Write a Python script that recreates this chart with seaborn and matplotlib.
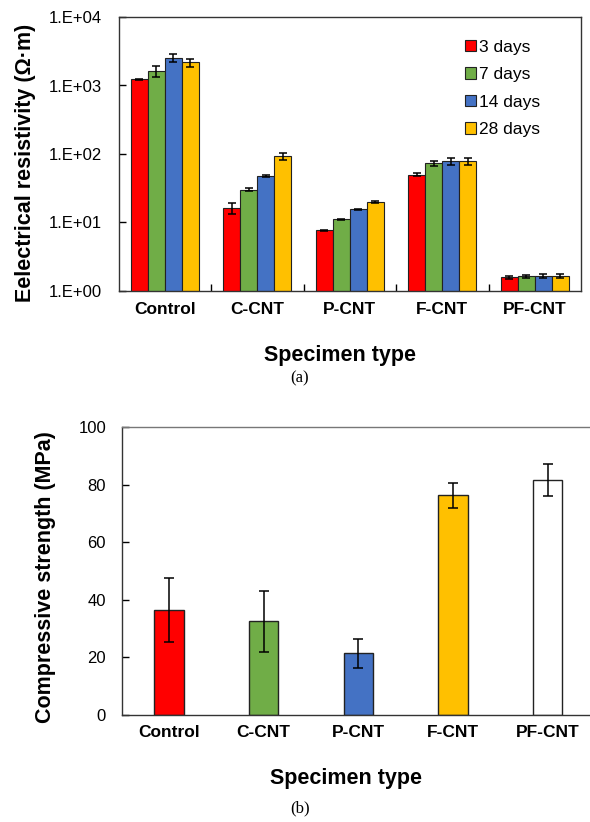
import numpy as np
import pandas as pd
import matplotlib
matplotlib.use("Agg")
import matplotlib.pyplot as plt
import seaborn as sns
from matplotlib.ticker import FuncFormatter, FixedLocator, NullLocator
from matplotlib.patches import Patch

# ---------------- data ----------------
specimens = ["Control", "C-CNT", "P-CNT", "F-CNT", "PF-CNT"]
ages = ["3 days", "7 days", "14 days", "28 days"]
age_colors = ["#FF0000", "#70AD47", "#4472C4", "#FFC000"]

res_3d = [1230, 16.4, 7.7, 50, 1.60]
res_7d = [1620, 30.1, 11.1, 73, 1.63]
res_14d = [2540, 47.2, 15.5, 78, 1.65]
res_28d = [2180, 92.5, 19.9, 78, 1.66]
err_3d = [30, 3.0, 0.1, 3.0, 0.08]
err_7d = [280, 1.5, 0.3, 7.0, 0.10]
err_14d = [350, 1.5, 0.3, 9.0, 0.10]
err_28d = [290, 12.0, 0.5, 8.0, 0.12]

strength = [36.3, 32.4, 21.3, 76.2, 81.5]
strength_err = [11.1, 10.7, 4.9, 4.5, 5.6]
strength_colors = ["#FF0000", "#70AD47", "#4472C4", "#FFC000", "#FFFFFF"]

res_vals = [res_3d, res_7d, res_14d, res_28d]
res_errs = [err_3d, err_7d, err_14d, err_28d]

df_a = pd.DataFrame({
    "Specimen": np.tile(specimens, len(ages)),
    "Age": np.repeat(ages, len(specimens)),
    "Resistivity": np.concatenate(res_vals),
    "Err": np.concatenate(res_errs),
})
df_b = pd.DataFrame({"Specimen": specimens, "Strength": strength, "Err": strength_err})

# ---------------- style ----------------
sns.set_theme(style="white")
plt.rcParams["font.family"] = ["Liberation Sans", "DejaVu Sans"]
plt.rcParams["axes.linewidth"] = 1.0
for k in ["text.color", "axes.labelcolor", "xtick.color", "ytick.color"]:
    plt.rcParams[k] = "black"

W, H = 590, 822
fig = plt.figure(figsize=(W / 100, H / 100), dpi=100)

def px_axes(l, t, r, b):
    return fig.add_axes([l / W, 1 - b / H, (r - l) / W, (b - t) / H])

edge = "#222222"

# ---------------- panel (a) ----------------
ax1 = px_axes(118.5, 17, 581, 291)
ax1.set_yscale("log")
sns.barplot(data=df_a, x="Specimen", y="Resistivity", hue="Age", order=specimens,
            hue_order=ages, palette=age_colors, errorbar=None, width=0.73, saturation=1,
            edgecolor=edge, linewidth=0.8, ax=ax1, legend=False)
for p, (_, row) in zip(ax1.patches, df_a.iterrows()):
    cx = p.get_x() + p.get_width() / 2
    ax1.errorbar(cx, p.get_height(), yerr=row["Err"], fmt="none", ecolor="black",
                 elinewidth=1.1, capsize=3, capthick=1.1)
ax1.set_ylim(1, 1e4)
ax1.set_xlim(-0.5, 4.5)
ax1.yaxis.set_major_locator(FixedLocator([1, 10, 100, 1000, 10000]))
ax1.yaxis.set_minor_locator(NullLocator())
ax1.yaxis.set_major_formatter(FuncFormatter(lambda v, p: "1.E+%02d" % int(round(np.log10(v)))))
ax1.tick_params(axis="y", direction="in", length=5, width=1, labelsize=12, pad=12, left=True)
ax1.set_xticks(range(len(specimens)))
ax1.set_xticklabels(specimens, fontweight="bold", fontsize=12.5)
ax1.tick_params(axis="x", length=0, pad=7.7)
ax1.set_xticks([0.5, 1.5, 2.5, 3.5], minor=True)
ax1.tick_params(axis="x", which="minor", direction="in", length=5, width=1, bottom=True)
for s in ax1.spines.values():
    s.set_visible(True)
    s.set_color("#333333")
ax1.set_xlabel("Specimen type", fontsize=15.5, fontweight="bold")
ax1.xaxis.label.set_va("center")
ax1.xaxis.set_label_coords(0.478, -0.234)
ax1.set_ylabel("Eelectrical resistivity (\u03a9\u00b7m)", fontsize=15.5, fontweight="bold")
ax1.yaxis.label.set_va("center")
ax1.yaxis.set_label_coords(-0.2, 0.469)
handles = [Patch(facecolor=c, edgecolor=edge, linewidth=0.8) for c in age_colors]
ax1.legend(handles, ages, loc="upper left", bbox_to_anchor=(0.722, 0.962), frameon=False,
           fontsize=12.5, handlelength=0.65, handleheight=0.65, handletextpad=0.2,
           labelspacing=0.72, borderpad=0.2)

# ---------------- panel (b) ----------------
ax2 = px_axes(121.7, 427, 595, 714.7)
sns.barplot(data=df_b, x="Specimen", y="Strength", hue="Specimen", order=specimens,
            hue_order=specimens, palette=strength_colors, errorbar=None, width=0.31, saturation=1,
            edgecolor=edge, linewidth=1.0, ax=ax2, legend=False, dodge=False)
for p, (_, row) in zip(ax2.patches, df_b.iterrows()):
    cx = p.get_x() + p.get_width() / 2
    ax2.errorbar(cx, p.get_height(), yerr=row["Err"], fmt="none", ecolor="black",
                 elinewidth=1.1, capsize=3.5, capthick=1.1)
ax2.set_ylim(0, 100)
ax2.set_xlim(-0.5, 4.5)
ax2.set_yticks([0, 20, 40, 60, 80, 100])
ax2.tick_params(axis="y", direction="in", length=5, width=1, labelsize=12, pad=11.3, left=True)
ax2.set_xticks(range(len(specimens)))
ax2.set_xticklabels(specimens, fontweight="bold", fontsize=12.5)
ax2.tick_params(axis="x", length=0, pad=7.4)
for s in ax2.spines.values():
    s.set_visible(True)
    s.set_color("#333333")
ax2.spines["top"].set_color("#777777")
ax2.set_xlabel("Specimen type", fontsize=15.5, fontweight="bold")
ax2.xaxis.label.set_va("center")
ax2.xaxis.set_label_coords(0.4745, -0.221)
ax2.set_ylabel("Compressive strength (MPa)", fontsize=15.5, fontweight="bold")
ax2.yaxis.label.set_va("center")
ax2.yaxis.set_label_coords(-0.16, 0.477)

# captions
fig.text(300 / W, 1 - 378 / H, "(a)", ha="center", va="center", fontsize=12,
         family=["Liberation Serif", "DejaVu Serif"])
fig.text(300 / W, 1 - 808 / H, "(b)", ha="center", va="center", fontsize=12,
         family=["Liberation Serif", "DejaVu Serif"])

fig.savefig("out.png", dpi=100)
